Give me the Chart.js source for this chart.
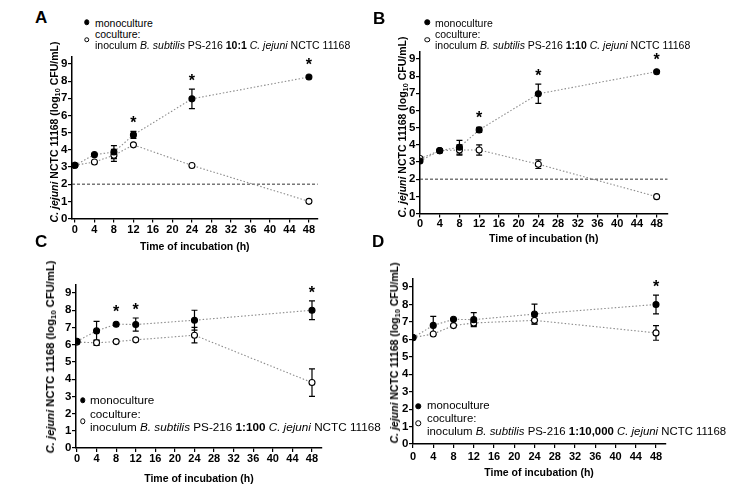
<!DOCTYPE html>
<html>
<head>
<meta charset="utf-8">
<script src="https://cdn.jsdelivr.net/npm/chart.js@4.4.1/dist/chart.umd.min.js"></script>
<style>
  body { margin: 0; background: #fff; }
  #fig { position: relative; width: 740px; height: 496px; overflow: hidden; font-family: 'Liberation Sans', Arial, sans-serif; color: #000; }
  #fig canvas { position: absolute; }
  .letter { position: absolute; font-weight: bold; font-size: 17px; line-height: 17px; }
  .ytitle { position: absolute; white-space: nowrap; font-weight: bold; transform: translate(-50%, -50%) rotate(-90deg); }
  .ytitle sub { font-size: 70%; vertical-align: -2px; line-height: 0; }
  .leg { position: absolute; white-space: nowrap; transform: translateY(-50%); line-height: 1.2; }
  .mk { position: absolute; border-radius: 50%; box-sizing: border-box; transform: translate(-50%, -50%); border: 1px solid #000; }
</style>
</head>
<body>
<div id="fig"></div>
<script>
// sampling times (h) and axis ticks
const times = [0, 4, 8, 12, 24, 48];
const xTicks = [0, 4, 8, 12, 16, 20, 24, 28, 32, 36, 40, 44, 48];
const yTicks = [0, 1, 2, 3, 4, 5, 6, 7, 8, 9];
const ratios = ['10:1', '1:10', '1:100', '1:10,000'];

// A - 10:1
const monoA = [3.1, 3.72, 3.87, 4.87, 6.97, 8.24];
const monoErrA = [0, 0, 0.38, 0.2, 0.57, 0];
const coA = [3.1, 3.29, 3.68, 4.29, 3.09, 1.0];
const coErrA = [0, 0, 0.35, 0, 0, 0];
const sigA = [0, 0, 0, 1, 1, 1];
const limitA = 2;

// B - 1:10
const monoB = [3.06, 3.66, 3.86, 4.87, 6.97, 8.26];
const monoErrB = [0, 0.08, 0.4, 0.15, 0.56, 0];
const coB = [3.2, 3.66, 3.7, 3.7, 2.87, 0.98];
const coErrB = [0, 0, 0.3, 0.3, 0.25, 0];
const sigB = [0, 0, 0, 1, 1, 1];
const limitB = 2;

// C - 1:100
const monoC = [6.2, 6.8, 7.19, 7.17, 7.42, 8.0];
const monoErrC = [0, 0.55, 0, 0.38, 0.58, 0.54];
const coC = [6.15, 6.11, 6.18, 6.28, 6.55, 3.8];
const coErrC = [0, 0.15, 0, 0, 0.45, 0.8];
const sigC = [0, 0, 1, 1, 0, 1];

// D - 1:10,000
const monoD = [6.1, 6.8, 7.15, 7.13, 7.45, 8.0];
const monoErrD = [0, 0.52, 0, 0.4, 0.57, 0.54];
const coD = [6.1, 6.31, 6.79, 6.94, 7.09, 6.37];
const coErrD = [0, 0, 0, 0.15, 0.22, 0.42];
const sigD = [0, 0, 0, 0, 0, 1];

const fig = document.getElementById('fig');
const FONT = "'Liberation Sans', Arial, sans-serif";

const panels = [
  { letter: 'A', lx: 35, ly: 9, ratio: ratios[0], mono: monoA, monoErr: monoErrA, co: coA, coErr: coErrA, sig: sigA, limit: limitA,
    box: { left: 0, top: 48, w: 368, h: 212 }, area: { l: 72, b: 218.5 }, unit: 17.17, yMax: 9.4,
    xMin: -0.6, xMax: 49.8, pxPerH: 4.875, xTitleY: 247, tickPad: 1,
    yt: { x: 54, y: 132, fs: 10.5 },
    leg: { mx: 86.7, m1: 22.3, m2: 39.5, tx: 95, lines: [22.5, 33.5, 44.8], fs: 10.5 } },
  { letter: 'B', lx: 373, ly: 10, ratio: ratios[1], mono: monoB, monoErr: monoErrB, co: coB, coErr: coErrB, sig: sigB, limit: limitB,
    box: { left: 370, top: 44, w: 370, h: 210 }, area: { l: 420, b: 213.5 }, unit: 17.17, yMax: 9.4,
    xMin: 0, xMax: 50.2, pxPerH: 4.93, xTitleY: 239, tickPad: 0,
    yt: { x: 402, y: 127, fs: 10.5 },
    leg: { mx: 427.3, m1: 22.3, m2: 39.5, tx: 435, lines: [22.5, 33.5, 44.8], fs: 10.5 } },
  { letter: 'C', lx: 35, ly: 233, ratio: ratios[2], mono: monoC, monoErr: monoErrC, co: coC, coErr: coErrC, sig: sigC, limit: null,
    box: { left: 0, top: 262, w: 368, h: 234 }, area: { l: 76, b: 448 }, unit: 17.22, yMax: 9.5,
    xMin: -0.2, xMax: 50, pxPerH: 4.896, xTitleY: 479, tickPad: 0,
    yt: { x: 50, y: 357, fs: 11.2 },
    leg: { mx: 82.7, m1: 400, m2: 421, tx: 90, lines: [400, 413.5, 427.3], fs: 11.7 } },
  { letter: 'D', lx: 372, ly: 233, ratio: ratios[3], mono: monoD, monoErr: monoErrD, co: coD, coErr: coErrD, sig: sigD, limit: null,
    box: { left: 370, top: 262, w: 370, h: 234 }, area: { l: 413, b: 444 }, unit: 17.44, yMax: 9.5,
    xMin: 0, xMax: 49.8, pxPerH: 5.0625, xTitleY: 473, tickPad: 2,
    yt: { x: 394, y: 353, fs: 10.5 },
    leg: { mx: 418, m1: 406, m2: 423, tx: 427, lines: [406, 418.8, 431.5], fs: 11.4 } }
];

function marksPlugin(p) {
  const series = [{ vals: p.mono, err: p.monoErr }, { vals: p.co, err: p.coErr }];
  return {
    id: 'marks' + p.letter,
    beforeDatasetsDraw(chart) {
      const { ctx, chartArea: a, scales: { x, y } } = chart;
      ctx.save();
      if (p.limit != null) {
        const py = y.getPixelForValue(p.limit);
        ctx.strokeStyle = '#333';
        ctx.lineWidth = 1;
        ctx.setLineDash([3, 2]);
        ctx.beginPath();
        ctx.moveTo(a.left, py);
        ctx.lineTo(a.right, py);
        ctx.stroke();
        ctx.setLineDash([]);
      }
      ctx.strokeStyle = '#000';
      ctx.lineWidth = 1.2;
      series.forEach(s => s.vals.forEach((v, i) => {
        const e = s.err[i];
        if (!e) return;
        const px = x.getPixelForValue(times[i]);
        const t = y.getPixelForValue(v + e), b = y.getPixelForValue(v - e);
        ctx.beginPath();
        ctx.moveTo(px, t); ctx.lineTo(px, b);
        ctx.moveTo(px - 3, t); ctx.lineTo(px + 3, t);
        ctx.moveTo(px - 3, b); ctx.lineTo(px + 3, b);
        ctx.stroke();
      }));
      ctx.restore();
    },
    afterDatasetsDraw(chart) {
      const { ctx, scales: { x, y } } = chart;
      ctx.save();
      ctx.fillStyle = '#000';
      ctx.font = 'bold 16px ' + FONT;
      ctx.textAlign = 'center';
      ctx.textBaseline = 'alphabetic';
      p.sig.forEach((s, i) => {
        if (!s) return;
        const px = x.getPixelForValue(times[i]);
        const top = Math.min(y.getPixelForValue(p.mono[i] + p.monoErr[i]) - 12, y.getPixelForValue(p.mono[i]) - 16);
        ctx.fillText('*', px, top + 9);
      });
      ctx.restore();
    }
  };
}

panels.forEach(p => {
  const { box, area } = p;
  const yw = 30;
  const areaTop = area.b - p.yMax * p.unit;
  const areaRight = area.l + (p.xMax - p.xMin) * p.pxPerH;
  const lh = 10.5 * 1.2;
  const xh = p.xTitleY + lh / 2 - area.b;

  const cv = document.createElement('canvas');
  cv.style.left = box.left + 'px';
  cv.style.top = box.top + 'px';
  cv.style.width = box.w + 'px';
  cv.style.height = box.h + 'px';
  cv.width = box.w; cv.height = box.h;
  fig.appendChild(cv);

  const ds = (vals, fill, order) => ({
    data: vals.map((v, i) => ({ x: times[i], y: v })),
    showLine: true,
    borderColor: '#8c8c8c',
    borderWidth: 1.1,
    borderDash: [1.5, 2],
    pointRadius: 3,
    pointHoverRadius: 3,
    pointBackgroundColor: fill,
    pointBorderColor: '#000',
    pointBorderWidth: 1.1,
    order
  });

  const axisCommon = {
    border: { display: true, color: '#000', width: 1.5 },
    grid: { display: true, drawOnChartArea: false, drawTicks: true, tickLength: 4, color: '#000', lineWidth: 1.2 }
  };

  new Chart(cv, {
    type: 'scatter',
    data: { datasets: [ds(p.mono, '#000', 1), ds(p.co, '#fff', 2)] },
    options: {
      responsive: false,
      animation: false,
      events: [],
      layout: {
        padding: {
          left: area.l - box.left - yw,
          top: areaTop - box.top,
          right: box.left + box.w - areaRight,
          bottom: box.top + box.h - area.b - xh
        }
      },
      plugins: { legend: { display: false }, tooltip: { enabled: false } },
      scales: {
        x: {
          ...axisCommon,
          type: 'linear',
          min: p.xMin, max: p.xMax,
          afterBuildTicks: s => { s.ticks = xTicks.map(v => ({ value: v })); },
          afterFit: s => { s.height = xh; s.paddingLeft = 0; s.paddingRight = 0; },
          ticks: { autoSkip: false, maxRotation: 0, padding: p.tickPad, color: '#000', font: { family: FONT, size: 11, weight: 'bold' } },
          title: { display: true, text: 'Time of incubation (h)', color: '#000', padding: 0, font: { family: FONT, size: 10.5, weight: 'bold' } }
        },
        y: {
          ...axisCommon,
          type: 'linear',
          min: 0, max: p.yMax,
          afterBuildTicks: s => { s.ticks = yTicks.map(v => ({ value: v })); },
          afterFit: s => { s.width = yw; s.paddingTop = 0; s.paddingBottom = 0; },
          ticks: { autoSkip: false, padding: 0.5, color: '#000', font: { family: FONT, size: 11.5, weight: 'bold' } }
        }
      }
    },
    plugins: [marksPlugin(p)]
  });

  // panel letter
  const L = document.createElement('div');
  L.className = 'letter';
  L.style.left = p.lx + 'px';
  L.style.top = p.ly + 'px';
  L.textContent = p.letter;
  fig.appendChild(L);

  // y axis title
  const yt = document.createElement('div');
  yt.className = 'ytitle';
  yt.style.left = p.yt.x + 'px';
  yt.style.top = p.yt.y + 'px';
  yt.style.fontSize = p.yt.fs + 'px';
  yt.innerHTML = '<i>C. jejuni</i> NCTC 11168 (log<sub>10</sub> CFU/mL)';
  fig.appendChild(yt);

  // legend
  const g = p.leg;
  const texts = ['monoculture', 'coculture:',
    'inoculum <i>B. subtilis</i> PS-216 <b>' + p.ratio + '</b> <i>C. jejuni</i> NCTC 11168'];
  texts.forEach((t, i) => {
    const d = document.createElement('div');
    d.className = 'leg';
    d.style.left = g.tx + 'px';
    d.style.top = g.lines[i] + 'px';
    d.style.fontSize = g.fs + 'px';
    d.innerHTML = t;
    fig.appendChild(d);
  });
  [[g.m1, '#000'], [g.m2, '#fff']].forEach(([my, fill]) => {
    const m = document.createElement('div');
    m.className = 'mk';
    m.style.left = g.mx + 'px';
    m.style.top = my + 'px';
    m.style.width = '5.5px';
    m.style.height = '5.5px';
    m.style.background = fill;
    fig.appendChild(m);
  });
});
</script>
</body>
</html>
